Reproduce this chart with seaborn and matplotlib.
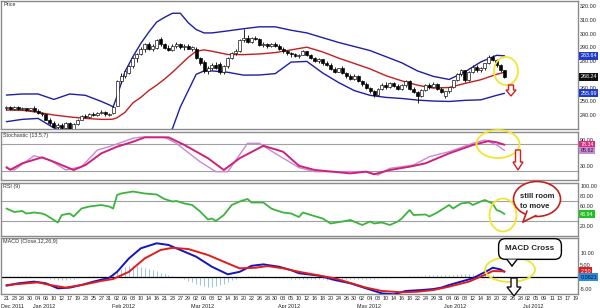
import numpy as np
import pandas as pd
import matplotlib
matplotlib.use("Agg")
import matplotlib.pyplot as plt
import matplotlib.transforms as mtrans
from matplotlib.patches import Ellipse, Polygon
import seaborn as sns

sns.set_style("white")
plt.rcParams['font.family'] = ['Liberation Sans', 'DejaVu Sans']

# ---------------- data ----------------
holidays = ["2011-12-26", "2012-01-02", "2012-01-16", "2012-02-20",
            "2012-04-06", "2012-05-28", "2012-07-04"]
days = pd.bdate_range("2011-12-21", "2012-07-19", freq="C", holidays=holidays)
month_labels = ["Dec 2011", "Jan 2012", "Feb 2012", "Mar 2012",
                "Apr 2012", "May 2012", "Jun 2012", "Jul 2012"]

opens = [245,246,244.5,246,244.5,245,243.5,245.5,243,241.5,
         240.5,236.5,234,231.5,233,230.5,234,229.5,233.5,236.5,
         239.5,238.5,241,240,241.5,242,240,241.5,247,265,
         269,271,276,282,285,289,292,289,289.5,296,
         292,289.5,288,291,292,290,291,289,289,282,
         279,272.5,275,277,277.5,272,276,282,286,287,
         295,297,294,296.5,296,291.5,292.5,290.5,292,291,
         289,287,285.5,285,283.5,284.5,287,284,282,280,
         281,278,277,274,272,274.5,271,268.5,266.5,269,
         265,262.5,260,257.5,254.5,259.5,262,260.5,263.5,261.5,
         259.5,262,265,259.5,257,254,258.5,262,261,263,
         259.5,254,257.5,260.5,265.5,270,273,265.5,272,275.5,
         273,274.5,278,283,280.5,276.5,273]
highs = [247,247,246.5,246.5,246,245.5,245.5,246.5,244.5,242.5,
         241,237.5,235.5,234,234,234.5,235,234,237,240,
         241,241.5,242.5,242,243.5,243,241.5,247,266,271,
         273.5,277,283,286,290,293,293.5,292,296,297.5,
         293,291.5,292,293.5,293,292,292.5,291,290,283,
         280.5,276,278,279,279,276.5,283,286.5,289,296,
         303.5,299,297.5,298,296.5,293.5,293,293,293.5,292.5,
         290,288,286.5,286,285,288,287.5,285,283,282,
         281.5,279.5,278,275.5,275,276,272,270,270,269.5,
         266,264.5,261,258.5,260,263.5,264,264.5,264,262.5,
         263,266,266,261,258,259,263,263.5,264,263.5,
         260.5,258,261,266,271,274,273.5,272.5,276.5,276.5,
         275.5,278.5,284,284.5,281,277.5,273.5]
lows = [244,244,244,243.5,243.5,243,243,242.5,240.5,239,
        236,233,230.5,230,229.5,230,228,229,233,236,
        237.5,238,239.5,239,240.5,239.5,239.5,241,246.5,263.5,
        267,270,275,279,284,286.5,288,287,289,291,
        288.5,287,287.5,289.5,289,288,288.5,287.5,281,277,
        271,270.5,273,274,270.5,270,275,281,284,286.5,
        294,293,293,295,290.5,290,289.5,290,290,288,
        286,284.5,283,282.5,282,284,283.5,281,279,278.5,
        277,276,273,271,271.5,270,267.5,265.5,266,264,
        261.5,259,256.5,253,254,258.5,259.5,260,260.5,258.5,
        258.5,261,258.5,256,249,253.5,258,259.5,260.5,258.5,
        256,252.5,256.5,260,265,269,264.5,265,271,272,
        271.5,273.5,277.5,279.5,275.5,272,267.5]
closes = [246,244.5,246,244.5,245,243.5,245,243,241.5,241,
          236.5,234,231.5,233,230.5,234,229.5,233.5,236.5,239.5,
          238.5,241,240,241.5,242,240.5,241,246,265,269,
          272.5,276,282,285,289,292,289,290.5,295,292,
          289.5,288,291,292,290,291,289,290,282,278,
          272.5,275,277,275,271.5,276,282,286,287,295,
          297,294,296.5,296,291.5,292.5,290.5,292,291,289,
          287,285.5,285,283.5,284.5,287.5,284,282,280,281,
          278,277,274,272,274.5,271,268.5,266.5,269,265,
          262.5,260,257.5,254.5,259.5,262,260.5,263.5,261.5,259.5,
          262,265,259.5,257,254,258.5,262,261,263,259.5,
          257,257.5,260.5,265.5,270,273,265.5,272,275.5,273,
          274.5,278,283,280.5,276.5,273,268.24]

bb_day = [0,4,8,12,16,20,24,26,27,28,30,32,34,36,38,40,42,44,46,48,50,52,56,60,
          64,68,72,76,80,84,88,92,96,100,104,108,112,116,120,124,126]
bb_upper = [254.7,255.5,255.5,251.5,255.5,254.5,250,247.5,246,254,272,283,292.8,301,
            308.5,312,315,315,308,303,300.5,300.5,302,303.6,305,305,302.5,300.5,297,
            293.5,290.5,287.5,283,278.5,272.5,268.5,266.2,271.8,279.1,284,283.64]
bb_mid = [243.7,243.5,242,240,238.6,237.5,236.8,236.8,237,238,242,249,253,258,262,
          266.5,271.5,277,282.5,287,288,287,284.6,284.5,285,286,288,290,286.5,282,
          278,274,269,265.2,262,259.8,260.3,263.3,266,270,271.5]
bb_lower = [235.1,236.8,237.5,230.5,226,224,223,223,224,222,212,215,213,212,216,224,
            230,246,258,270,272.5,272.5,271.5,269.4,269.5,270.5,279,279.5,271,264,
            258,254.5,253,252.2,251,250.3,250,250.8,251.2,254.5,255.99]

stoch_k_day = [0,2,7,11,15,19,23,26,32,34,40,43,49,53,56,61,64,68,74,78,87,91,94,97,
               100,103,107,112,118,121,124,126]
stoch_k = [25.3,21.6,53.7,44,21.6,29,66.5,74,92.8,95.7,95,81.5,40,17.8,17.8,81.5,81.5,
           59,27,17.8,17.8,17.8,10.3,25.3,29,32.8,51.5,62.7,81.5,89,77.8,65.62]
stoch_d_day = [0,1,4,9,12,17,20,24,28,32,35,41,45,51,55,59,65,70,74,78,87,91,93,97,
               102,106,112,118,122,124,126]
stoch_d = [28,22,36.6,50,40,21.6,32.8,59,74,85,95,95,78,48,21.6,48,76,62.7,31,21.6,
           14,17.8,12,21.6,29,36.6,59,77.8,86.7,83.8,78.34]

rsi_day = [0,2,4,5,7,9,10,13,14,16,17,19,21,24,26,27,28,29,32,35,38,40,42,43,45,47,
           49,51,52,53,55,57,59,61,62,65,67,68,70,72,74,75,77,80,82,85,87,90,92,93,
           95,97,99,100,102,103,106,107,109,112,113,115,117,118,120,121,123,124,125,126]
rsi = [55,48,50,45,47,45,42,27,42,45,39,55,59,62,59,55,82,85,89,85,83,74,69,70,65,62,
       49,33,35,30,42,62,69,74,67,67,55,52,47,45,38,47,42,35,25,29,32,22,29,25,
       27,22,29,35,52,42,43,39,47,62,55,65,67,62,69,72,65,52,49,43.94]

macd_day = [0,3,7,10,13,16,19,22,26,28,31,34,38,41,44,48,52,56,59,62,65,69,72,74,79,
            83,87,91,95,98,101,105,108,110,112,115,118,122,123,125,126]
macd = [-3.5,-2.5,-1.8,-2.5,-4.6,-4.3,-3.2,-1.8,-0.2,2.3,7.9,12.1,14.2,13.5,11.4,8.6,
        4.4,1.25,2.3,4.8,5.4,4.4,3.0,1.7,0.7,-1.1,-2.5,-4.6,-6.7,-7.1,-5.7,-5.3,-4.9,
        -4.3,-3.2,-1.8,-0.4,3.0,4.0,3.3,2.3]
signal_day = [0,3,8,11,15,20,24,27,31,35,39,42,46,51,56,59,63,66,70,74,83,91,95,100,
              104,108,112,117,121,123,126]
signal = [-3.2,-2.8,-2.1,-3.2,-4.3,-2.9,-1.5,-0.7,2.3,7.9,11.4,12.3,11.8,9.3,5.8,3.75,
          4.0,4.7,3.75,2.3,-0.4,-4.3,-5.7,-6.25,-6.0,-5.3,-3.9,-1.8,1.0,2.6,2.5]
hist = [0.4,0.5,0.6,0.6,0.5,0.5,0.4,0.3,0.2,0.1,
        -0.3,-0.6,-0.9,-1.1,-1.2,-1.0,-0.8,-0.5,-0.2,0.1,0.3,
        0.4,0.5,0.6,0.6,0.5,0.6,
        1.2,2.5,3.5,4.2,4.8,5.0,4.8,4.5,4.0,3.5,3.0,
        2.5,2.0,1.5,1.0,0.5,0.1,-0.4,-0.9,-1.4,
        -2.0,-2.6,-3.2,-3.7,-4.0,-4.0,-3.7,-3.2,-2.6,-1.9,
        -1.2,-0.6,-0.1,0.3,0.5,0.6,
        0.6,0.5,0.4,0.3,0.1,-0.1,-0.2,
        -0.3,-0.4,-0.5,-0.5,-0.6,-0.6,-0.7,-0.8,-0.8,-0.9,-0.9,-1.0,-1.0,
        -1.0,-1.0,-0.9,-0.9,-0.8,-0.8,-0.7,-0.7,-0.6,-0.6,-0.5,-0.4,-0.3,-0.2,-0.1,0.0,0.1,0.2,
        0.3,0.4,0.5,0.6,0.7,0.8,0.9,1.0,1.0,1.0,1.0,1.1,1.1,1.2,1.2,1.2,1.2,1.2,1.1,1.1,
        1.0,1.0,0.8,0.6,0.3,0.1]

# right-axis tick values that remain visible (others are covered by value tags)
price_ticks = [240, 250, 260, 280, 290, 300, 310, 320]
stoch_ticks = [30, 90]
rsi_ticks = [20, 60, 80, 100]
macd_ticks = [-5, 5, 10]

# ---------------- figure ----------------
W, H = 600, 308
fig = plt.figure(figsize=(6.0, 3.08), dpi=100)
RX = 578 / W


def axrect(top, bot):
    return [0.0015, 1 - bot / H, RX - 0.0015, (bot - top) / H]


ax_p = fig.add_axes(axrect(0.5, 129))
ax_s = fig.add_axes(axrect(132, 180))
ax_r = fig.add_axes(axrect(183, 236))
ax_m = fig.add_axes(axrect(238, 294))
axes = [ax_p, ax_s, ax_r, ax_m]

XMIN, XMAX = -1.4, 144.6
TICK_FS = 3.9
for ax in axes:
    ax.set_xlim(XMIN, XMAX)
    ax.yaxis.tick_right()
    ax.tick_params(axis='y', length=0, pad=1.5, labelsize=TICK_FS, labelcolor='#222222')
    ax.tick_params(axis='x', length=0)
    for sp in ax.spines.values():
        sp.set_color('#8a8a8a')
        sp.set_linewidth(1.0)
    ax.set_xticks([])
    ax.set_facecolor('white')

# ---- price panel ----
xi = np.arange(len(closes))
o = np.array(opens); c = np.array(closes)
up = c >= o
ax_p.vlines(xi, lows, highs, color='black', lw=0.6, zorder=3)
ax_p.bar(xi, np.maximum(np.abs(c - o), 0.35), bottom=np.minimum(o, c), width=0.75,
         color=np.where(up, 'white', 'black'), edgecolor='black', linewidth=0.45, zorder=4)
sns.lineplot(x=bb_day, y=bb_upper, ax=ax_p, color='#1e1ea6', linewidth=1.0, zorder=2)
sns.lineplot(x=bb_day, y=bb_lower, ax=ax_p, color='#1e1ea6', linewidth=1.0, zorder=2)
sns.lineplot(x=bb_day, y=bb_mid, ax=ax_p, color='#c41e1e', linewidth=1.0, zorder=2)
ax_p.set_ylim(229.7, 324.4)
ax_p.set_yticks(price_ticks, [f"{v:.2f}" for v in price_ticks])

# ---- stochastic ----
for g in (80, 20):
    ax_s.axhline(g, color='#a0a0a0', lw=0.8, zorder=1)
sns.lineplot(x=stoch_k_day, y=stoch_k, ax=ax_s, color='#c68ad6', linewidth=1.0, zorder=2)
sns.lineplot(x=stoch_d_day, y=stoch_d, ax=ax_s, color='#d0207c', linewidth=1.4, zorder=3)
ax_s.set_ylim(-0.9, 107)
ax_s.set_yticks(stoch_ticks, [f"{v:.2f}" for v in stoch_ticks])

# ---- RSI ----
for g in (70, 30):
    ax_r.axhline(g, color='#a0a0a0', lw=0.8, zorder=1)
sns.lineplot(x=rsi_day, y=rsi, ax=ax_r, color='#3cb43c', linewidth=1.3, zorder=2)
ax_r.set_ylim(0, 106)
ax_r.set_yticks(rsi_ticks, [f"{v:.2f}" for v in rsi_ticks])

# ---- MACD ----
ax_m.vlines(xi, 0, hist, color='#9cc4de', lw=0.7, zorder=1)
ax_m.axhline(0, color='black', lw=0.9, zorder=2)
sns.lineplot(x=macd_day, y=macd, ax=ax_m, color='#1414c0', linewidth=1.4, zorder=3)
sns.lineplot(x=signal_day, y=signal, ax=ax_m, color='#e01c1c', linewidth=1.4, zorder=4)
ax_m.set_ylim(-6.96, 16.4)
ax_m.set_yticks(macd_ticks, [f"{v:.2f}" for v in macd_ticks])

for ax in axes:
    ax.set_xlabel('')
    ax.set_ylabel('')

# date ticks
tick_idx = list(range(0, len(days), 2))
ax_m.set_xticks(tick_idx, [days[i].strftime('%d') for i in tick_idx])
ax_m.tick_params(axis='x', labelsize=TICK_FS, pad=1.2, labelcolor='#222222')
first_of_month = []
seen = set()
for i in tick_idx:
    key = (days[i].year, days[i].month)
    if key not in seen:
        seen.add(key)
        first_of_month.append(i)
tr = mtrans.blended_transform_factory(ax_m.transData, ax_m.transAxes)
for i, lab in zip(first_of_month, month_labels):
    ax_m.text(i - 1.3, -0.215, lab, transform=tr, fontsize=TICK_FS, ha='left', va='center',
              color='#222222')

# panel titles
titles = [(ax_p, "Price"), (ax_s, "Stochastic (13,5,7)"), (ax_r, "RSI (9)"),
          (ax_m, "MACD (Close,12,26,9)")]
for ax, t in titles:
    ax.text(0.004, 0.985, t, transform=ax.transAxes, fontsize=3.9, va='top', ha='left',
            color='#333333')


# value tags on the right axis
def tag(ax, y, txt, bg, fg='white'):
    t = mtrans.blended_transform_factory(ax.transAxes, ax.transData)
    ax.text(1.004, y, txt, transform=t, fontsize=TICK_FS, color=fg, ha='left', va='center',
            bbox=dict(boxstyle='square,pad=0.25', fc=bg, ec='none'), zorder=10, clip_on=False)


tag(ax_p, 283.64, "283.64", '#1f3cc8')
tag(ax_p, 268.24, "268.24", '#111111')
tag(ax_p, 255.99, "255.99", '#1f3cc8')
tag(ax_s, 78.34, "78.34", '#e0287e')
tag(ax_s, 65.62, "65.62", '#c58ad8', fg='#222222')
tag(ax_r, 43.94, "43.94", '#22c022')
tag(ax_m, 2.5, "2.50", '#e01c1c')
tag(ax_m, 0.0, "0.0621", '#2a8ae0', fg='#111111')


# ---------------- annotations (pixel coordinates from top-left) ----------------
def P(x, y):
    return (x / W, 1 - y / H)


def ellipse(cx, cy, w, h, ec='#f0e630', fc='none', lw=1.3, z=5):
    e = Ellipse(P(cx, cy), w / W, h / H, transform=fig.transFigure, fc=fc, ec=ec, lw=lw,
                zorder=z)
    fig.add_artist(e)


def down_arrow(cx, y0, ym, y1, sw, hw, ec):
    pts = [P(cx - sw / 2, y0), P(cx + sw / 2, y0), P(cx + sw / 2, ym), P(cx + hw / 2, ym),
           P(cx, y1), P(cx - hw / 2, ym), P(cx - sw / 2, ym)]
    fig.add_artist(Polygon(pts, closed=True, transform=fig.transFigure, fc='white', ec=ec,
                           lw=1.0, zorder=6))


ellipse(506, 71, 24, 28)
down_arrow(511, 85, 90, 96, 5, 10, '#d02020')

ellipse(498, 144, 43, 28)
down_arrow(518, 150, 162, 170, 5, 10, '#d02020')

ellipse(503, 215, 27, 33)
# speech bubble "still room to move"
ellipse(537, 199, 47, 35, ec='#c42020', fc='white', lw=1.2, z=7)
fig.add_artist(Polygon([P(527, 211), P(536, 215.5), P(523, 222)], closed=True,
                       transform=fig.transFigure, fc='white', ec='none', zorder=8))
fig.add_artist(plt.Line2D([527 / W, 523 / W], [1 - 211 / H, 1 - 222 / H],
                          transform=fig.transFigure, color='#c42020', lw=1.2, zorder=9))
fig.add_artist(plt.Line2D([536 / W, 523 / W], [1 - 215.5 / H, 1 - 222 / H],
                          transform=fig.transFigure, color='#c42020', lw=1.2, zorder=9))
fig.text(*P(520, 196), "still room", fontsize=5.6, fontweight='bold', ha='left',
         va='center', zorder=10)
fig.text(*P(520, 207), "to move", fontsize=5.6, fontweight='bold', ha='left', va='center',
         zorder=10)

# MACD
ellipse(510, 269.5, 50, 25)
fig.text(*P(530, 249), "MACD Cross", fontsize=5.8, fontweight='bold', ha='center',
         va='center', zorder=10,
         bbox=dict(boxstyle='round,pad=0.85', fc='white', ec='black', lw=1.0))
fig.add_artist(Polygon([P(507, 259.5), P(517, 259.5), P(512, 266)], closed=True,
                       transform=fig.transFigure, fc='white', ec='none', zorder=11))
fig.add_artist(plt.Line2D([507 / W, 512 / W], [1 - 259.5 / H, 1 - 266 / H],
                          transform=fig.transFigure, color='black', lw=1.0, zorder=12))
fig.add_artist(plt.Line2D([517 / W, 512 / W], [1 - 259.5 / H, 1 - 266 / H],
                          transform=fig.transFigure, color='black', lw=1.0, zorder=12))
down_arrow(514, 278, 287, 296, 6, 14, '#111111')

fig.savefig("out.png", dpi=100, facecolor='white')
